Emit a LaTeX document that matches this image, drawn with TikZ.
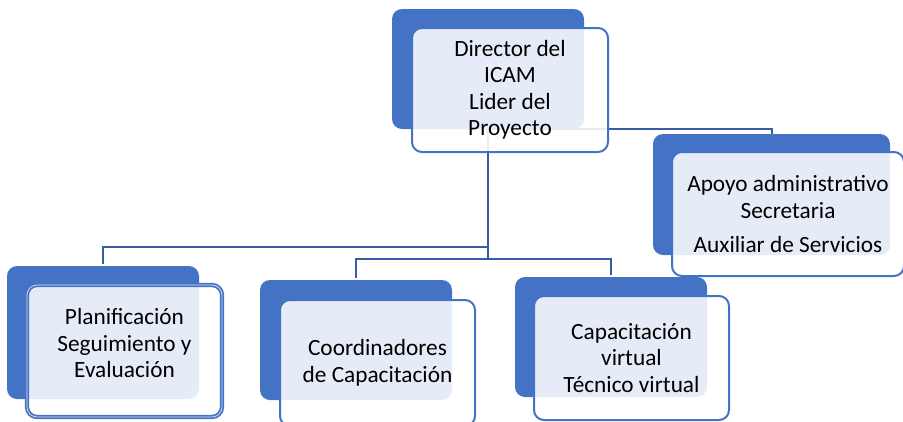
\documentclass[tikz,border=0pt]{standalone}
\usepackage{fontspec}
\setmainfont{Carlito}
\usetikzlibrary{positioning}
\definecolor{accent}{RGB}{68,114,196}
\definecolor{linkblue}{RGB}{56,93,166}

\begin{document}
\begin{tikzpicture}[x=1pt, y=-1pt,
  back/.style={fill=accent, rounded corners=10pt, minimum width=192pt, minimum height=120pt, inner sep=0pt},
  front/.style={draw=accent, line width=2pt, fill=white, fill opacity=0.87, rounded corners=10pt,
    minimum width=195pt, minimum height=124pt, inner sep=0pt},
  txt/.style={align=center, font=\fontsize{23.3}{26.5}\selectfont, inner sep=0pt},
  link/.style={draw=linkblue, line width=2pt}]
  \useasboundingbox (0,0) rectangle (903,421);

  % Back boxes
  \node[back] (dirB) at (488,69) {};
  \node[back, minimum width=237pt, minimum height=121pt] (apoB) at (771.5,194.5) {};
  \node[back, minimum height=133pt] (plaB) at (103,332.5) {};
  \node[back] (cooB) at (356,340) {};
  \node[back] (capB) at (611,337) {};

  % Connectors
  \coordinate (busA) at (0,247);
  \coordinate (busB) at (0,259);
  \draw[link] (dirB.south) -| (apoB.north);
  \draw[link] (dirB.south) -- (dirB.south |- busB);
  \draw[link, shorten >=2pt] (dirB.south |- busA) -| (plaB.north);
  \draw[link, shorten >=2pt] (dirB.south |- busB) -| (cooB.north);
  \draw[link, shorten >=2pt] (dirB.south |- busB) -| (capB.north);

  % Front boxes
  \node[front, minimum width=196pt] (dirF) at (510,90) {};
  \node[front, minimum width=232pt] (apoF) at (788,214) {};
  \node[front, double=white!80!accent, double distance=0.7pt, line width=1.8pt, minimum height=132pt] (plaF) at (124.5,351) {};
  \node[front, minimum height=126pt] (cooF) at (377.5,363) {};
  \node[front] (capF) at (631.5,358) {};

  % Texts
  \node[txt] (dirT) at (dirF) {Director del\\ICAM\\Lider del\\Proyecto};
  \node[txt] (apoT) at (apoF) {Apoyo administrativo\\Secretaria\\[8pt]Auxiliar de Servicios};
  \node[txt] (plaT) at ([yshift=8pt]plaF.center) {Planificación\\Seguimiento y\\Evaluación};
  \node[txt] (cooT) at (cooF) {Coordinadores\\de Capacitación};
  \node[txt] (capT) at (capF) {Capacitación\\virtual\\Técnico virtual};
\end{tikzpicture}
\end{document}
